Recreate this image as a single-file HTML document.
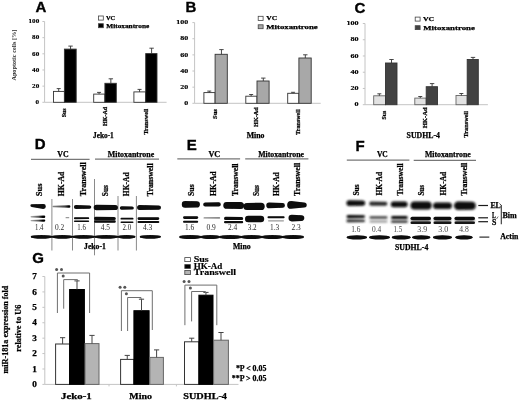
<!DOCTYPE html>
<html><head><meta charset="utf-8"><style>
html,body{margin:0;padding:0;background:#fff;width:520px;height:401px;overflow:hidden;}
svg{display:block;filter:blur(0.3px);}
</style></head><body>
<svg width="520" height="401" viewBox="0 0 520 401">
<rect x="0" y="0" width="520" height="401" fill="#fff"/>
<text x="35.40" y="12.30" font-family='"Liberation Sans", sans-serif' font-size="15" font-weight="bold" fill="#000" text-anchor="start" stroke="#000" stroke-width="0.35">A</text>
<text x="185.50" y="12.20" font-family='"Liberation Sans", sans-serif' font-size="15" font-weight="bold" fill="#000" text-anchor="start" stroke="#000" stroke-width="0.35">B</text>
<text x="354.40" y="12.80" font-family='"Liberation Sans", sans-serif' font-size="15" font-weight="bold" fill="#000" text-anchor="start" stroke="#000" stroke-width="0.35">C</text>
<text x="34.80" y="149.40" font-family='"Liberation Sans", sans-serif' font-size="15" font-weight="bold" fill="#000" text-anchor="start" stroke="#000" stroke-width="0.35">D</text>
<text x="186.80" y="149.80" font-family='"Liberation Sans", sans-serif' font-size="15" font-weight="bold" fill="#000" text-anchor="start" stroke="#000" stroke-width="0.35">E</text>
<text x="355.60" y="150.60" font-family='"Liberation Sans", sans-serif' font-size="15" font-weight="bold" fill="#000" text-anchor="start" stroke="#000" stroke-width="0.35">F</text>
<text x="32.20" y="263.40" font-family='"Liberation Sans", sans-serif' font-size="15" font-weight="bold" fill="#000" text-anchor="start" stroke="#000" stroke-width="0.35">G</text>
<line x1="44.60" y1="21.50" x2="44.60" y2="102.30" stroke="#c4c4c4" stroke-width="1"/>
<line x1="44.60" y1="102.30" x2="166.60" y2="102.30" stroke="#c4c4c4" stroke-width="1"/>
<line x1="42.40" y1="102.30" x2="44.60" y2="102.30" stroke="#c4c4c4" stroke-width="1"/>
<text x="39.20" y="104.00" font-family='"Liberation Serif", serif' font-size="6.2" font-weight="bold" fill="#000" stroke="#000" stroke-width="0.15" text-anchor="end" textLength="3.57" lengthAdjust="spacingAndGlyphs" >0</text>
<line x1="42.40" y1="86.14" x2="44.60" y2="86.14" stroke="#c4c4c4" stroke-width="1"/>
<text x="39.20" y="87.84" font-family='"Liberation Serif", serif' font-size="6.2" font-weight="bold" fill="#000" stroke="#000" stroke-width="0.15" text-anchor="end" textLength="7.13" lengthAdjust="spacingAndGlyphs" >20</text>
<line x1="42.40" y1="69.98" x2="44.60" y2="69.98" stroke="#c4c4c4" stroke-width="1"/>
<text x="39.20" y="71.68" font-family='"Liberation Serif", serif' font-size="6.2" font-weight="bold" fill="#000" stroke="#000" stroke-width="0.15" text-anchor="end" textLength="7.13" lengthAdjust="spacingAndGlyphs" >40</text>
<line x1="42.40" y1="53.82" x2="44.60" y2="53.82" stroke="#c4c4c4" stroke-width="1"/>
<text x="39.20" y="55.52" font-family='"Liberation Serif", serif' font-size="6.2" font-weight="bold" fill="#000" stroke="#000" stroke-width="0.15" text-anchor="end" textLength="7.13" lengthAdjust="spacingAndGlyphs" >60</text>
<line x1="42.40" y1="37.66" x2="44.60" y2="37.66" stroke="#c4c4c4" stroke-width="1"/>
<text x="39.20" y="39.36" font-family='"Liberation Serif", serif' font-size="6.2" font-weight="bold" fill="#000" stroke="#000" stroke-width="0.15" text-anchor="end" textLength="7.13" lengthAdjust="spacingAndGlyphs" >80</text>
<line x1="42.40" y1="21.50" x2="44.60" y2="21.50" stroke="#c4c4c4" stroke-width="1"/>
<text x="39.20" y="23.20" font-family='"Liberation Serif", serif' font-size="6.2" font-weight="bold" fill="#000" stroke="#000" stroke-width="0.15" text-anchor="end" textLength="10.70" lengthAdjust="spacingAndGlyphs" >100</text>
<rect x="53.50" y="91.40" width="10.90" height="10.90" fill="#fff" stroke="#333" stroke-width="0.9"/>
<line x1="58.70" y1="88.60" x2="58.70" y2="91.40" stroke="#333" stroke-width="0.9"/>
<line x1="56.70" y1="88.60" x2="60.70" y2="88.60" stroke="#333" stroke-width="0.9"/>
<rect x="64.40" y="49.10" width="11.80" height="53.20" fill="#000" stroke="#333" stroke-width="0.9"/>
<line x1="70.55" y1="46.10" x2="70.55" y2="49.10" stroke="#333" stroke-width="0.9"/>
<line x1="68.35" y1="46.10" x2="72.75" y2="46.10" stroke="#333" stroke-width="0.9"/>
<rect x="93.70" y="94.10" width="11.20" height="8.20" fill="#fff" stroke="#333" stroke-width="0.9"/>
<line x1="99.05" y1="92.40" x2="99.05" y2="94.10" stroke="#333" stroke-width="0.9"/>
<line x1="97.05" y1="92.40" x2="101.05" y2="92.40" stroke="#333" stroke-width="0.9"/>
<rect x="104.90" y="83.30" width="11.40" height="19.00" fill="#000" stroke="#333" stroke-width="0.9"/>
<line x1="110.85" y1="78.80" x2="110.85" y2="83.30" stroke="#333" stroke-width="0.9"/>
<line x1="108.65" y1="78.80" x2="113.05" y2="78.80" stroke="#333" stroke-width="0.9"/>
<rect x="133.90" y="91.90" width="11.80" height="10.40" fill="#fff" stroke="#333" stroke-width="0.9"/>
<line x1="139.55" y1="89.40" x2="139.55" y2="91.90" stroke="#333" stroke-width="0.9"/>
<line x1="137.55" y1="89.40" x2="141.55" y2="89.40" stroke="#333" stroke-width="0.9"/>
<rect x="145.70" y="53.60" width="11.30" height="48.70" fill="#000" stroke="#333" stroke-width="0.9"/>
<line x1="151.60" y1="48.20" x2="151.60" y2="53.60" stroke="#333" stroke-width="0.9"/>
<line x1="149.40" y1="48.20" x2="153.80" y2="48.20" stroke="#333" stroke-width="0.9"/>
<line x1="194.60" y1="22.60" x2="194.60" y2="103.30" stroke="#c4c4c4" stroke-width="1"/>
<line x1="194.60" y1="103.30" x2="320.70" y2="103.30" stroke="#c4c4c4" stroke-width="1"/>
<line x1="192.40" y1="103.30" x2="194.60" y2="103.30" stroke="#c4c4c4" stroke-width="1"/>
<text x="188.30" y="105.00" font-family='"Liberation Serif", serif' font-size="6.2" font-weight="bold" fill="#000" stroke="#000" stroke-width="0.15" text-anchor="end" textLength="4.00" lengthAdjust="spacingAndGlyphs" >0</text>
<line x1="192.40" y1="87.16" x2="194.60" y2="87.16" stroke="#c4c4c4" stroke-width="1"/>
<text x="188.30" y="88.86" font-family='"Liberation Serif", serif' font-size="6.2" font-weight="bold" fill="#000" stroke="#000" stroke-width="0.15" text-anchor="end" textLength="8.00" lengthAdjust="spacingAndGlyphs" >20</text>
<line x1="192.40" y1="71.02" x2="194.60" y2="71.02" stroke="#c4c4c4" stroke-width="1"/>
<text x="188.30" y="72.72" font-family='"Liberation Serif", serif' font-size="6.2" font-weight="bold" fill="#000" stroke="#000" stroke-width="0.15" text-anchor="end" textLength="8.00" lengthAdjust="spacingAndGlyphs" >40</text>
<line x1="192.40" y1="54.88" x2="194.60" y2="54.88" stroke="#c4c4c4" stroke-width="1"/>
<text x="188.30" y="56.58" font-family='"Liberation Serif", serif' font-size="6.2" font-weight="bold" fill="#000" stroke="#000" stroke-width="0.15" text-anchor="end" textLength="8.00" lengthAdjust="spacingAndGlyphs" >60</text>
<line x1="192.40" y1="38.74" x2="194.60" y2="38.74" stroke="#c4c4c4" stroke-width="1"/>
<text x="188.30" y="40.44" font-family='"Liberation Serif", serif' font-size="6.2" font-weight="bold" fill="#000" stroke="#000" stroke-width="0.15" text-anchor="end" textLength="8.00" lengthAdjust="spacingAndGlyphs" >80</text>
<line x1="192.40" y1="22.60" x2="194.60" y2="22.60" stroke="#c4c4c4" stroke-width="1"/>
<text x="188.30" y="24.30" font-family='"Liberation Serif", serif' font-size="6.2" font-weight="bold" fill="#000" stroke="#000" stroke-width="0.15" text-anchor="end" textLength="12.00" lengthAdjust="spacingAndGlyphs" >100</text>
<rect x="203.90" y="92.60" width="11.20" height="10.70" fill="#fff" stroke="#333" stroke-width="0.9"/>
<line x1="209.25" y1="91.10" x2="209.25" y2="92.60" stroke="#333" stroke-width="0.9"/>
<line x1="207.25" y1="91.10" x2="211.25" y2="91.10" stroke="#333" stroke-width="0.9"/>
<rect x="215.10" y="54.30" width="12.20" height="49.00" fill="#a8a8a8" stroke="#333" stroke-width="0.9"/>
<line x1="221.45" y1="49.60" x2="221.45" y2="54.30" stroke="#333" stroke-width="0.9"/>
<line x1="219.25" y1="49.60" x2="223.65" y2="49.60" stroke="#333" stroke-width="0.9"/>
<rect x="245.80" y="96.20" width="11.20" height="7.10" fill="#fff" stroke="#333" stroke-width="0.9"/>
<line x1="251.15" y1="94.50" x2="251.15" y2="96.20" stroke="#333" stroke-width="0.9"/>
<line x1="249.15" y1="94.50" x2="253.15" y2="94.50" stroke="#333" stroke-width="0.9"/>
<rect x="257.00" y="81.00" width="12.10" height="22.30" fill="#a8a8a8" stroke="#333" stroke-width="0.9"/>
<line x1="263.30" y1="78.10" x2="263.30" y2="81.00" stroke="#333" stroke-width="0.9"/>
<line x1="261.10" y1="78.10" x2="265.50" y2="78.10" stroke="#333" stroke-width="0.9"/>
<rect x="287.70" y="93.30" width="11.20" height="10.00" fill="#fff" stroke="#333" stroke-width="0.9"/>
<line x1="293.05" y1="92.30" x2="293.05" y2="93.30" stroke="#333" stroke-width="0.9"/>
<line x1="291.05" y1="92.30" x2="295.05" y2="92.30" stroke="#333" stroke-width="0.9"/>
<rect x="298.90" y="58.00" width="12.30" height="45.30" fill="#a8a8a8" stroke="#333" stroke-width="0.9"/>
<line x1="305.30" y1="54.80" x2="305.30" y2="58.00" stroke="#333" stroke-width="0.9"/>
<line x1="303.10" y1="54.80" x2="307.50" y2="54.80" stroke="#333" stroke-width="0.9"/>
<line x1="365.00" y1="23.50" x2="365.00" y2="104.70" stroke="#c4c4c4" stroke-width="1"/>
<line x1="365.00" y1="104.70" x2="487.90" y2="104.70" stroke="#c4c4c4" stroke-width="1"/>
<line x1="362.80" y1="104.70" x2="365.00" y2="104.70" stroke="#c4c4c4" stroke-width="1"/>
<text x="358.60" y="106.40" font-family='"Liberation Serif", serif' font-size="6.2" font-weight="bold" fill="#000" stroke="#000" stroke-width="0.15" text-anchor="end" textLength="4.07" lengthAdjust="spacingAndGlyphs" >0</text>
<line x1="362.80" y1="88.46" x2="365.00" y2="88.46" stroke="#c4c4c4" stroke-width="1"/>
<text x="358.60" y="90.16" font-family='"Liberation Serif", serif' font-size="6.2" font-weight="bold" fill="#000" stroke="#000" stroke-width="0.15" text-anchor="end" textLength="8.13" lengthAdjust="spacingAndGlyphs" >20</text>
<line x1="362.80" y1="72.22" x2="365.00" y2="72.22" stroke="#c4c4c4" stroke-width="1"/>
<text x="358.60" y="73.92" font-family='"Liberation Serif", serif' font-size="6.2" font-weight="bold" fill="#000" stroke="#000" stroke-width="0.15" text-anchor="end" textLength="8.13" lengthAdjust="spacingAndGlyphs" >40</text>
<line x1="362.80" y1="55.98" x2="365.00" y2="55.98" stroke="#c4c4c4" stroke-width="1"/>
<text x="358.60" y="57.68" font-family='"Liberation Serif", serif' font-size="6.2" font-weight="bold" fill="#000" stroke="#000" stroke-width="0.15" text-anchor="end" textLength="8.13" lengthAdjust="spacingAndGlyphs" >60</text>
<line x1="362.80" y1="39.74" x2="365.00" y2="39.74" stroke="#c4c4c4" stroke-width="1"/>
<text x="358.60" y="41.44" font-family='"Liberation Serif", serif' font-size="6.2" font-weight="bold" fill="#000" stroke="#000" stroke-width="0.15" text-anchor="end" textLength="8.13" lengthAdjust="spacingAndGlyphs" >80</text>
<line x1="362.80" y1="23.50" x2="365.00" y2="23.50" stroke="#c4c4c4" stroke-width="1"/>
<text x="358.60" y="25.20" font-family='"Liberation Serif", serif' font-size="6.2" font-weight="bold" fill="#000" stroke="#000" stroke-width="0.15" text-anchor="end" textLength="12.20" lengthAdjust="spacingAndGlyphs" >100</text>
<rect x="373.70" y="95.80" width="11.80" height="8.90" fill="#e2e2e2" stroke="#666" stroke-width="0.9"/>
<line x1="379.35" y1="93.80" x2="379.35" y2="95.80" stroke="#333" stroke-width="0.9"/>
<line x1="377.35" y1="93.80" x2="381.35" y2="93.80" stroke="#333" stroke-width="0.9"/>
<rect x="385.50" y="63.00" width="11.50" height="41.70" fill="#424242" stroke="#333" stroke-width="0.9"/>
<line x1="391.50" y1="59.50" x2="391.50" y2="63.00" stroke="#333" stroke-width="0.9"/>
<line x1="389.30" y1="59.50" x2="393.70" y2="59.50" stroke="#333" stroke-width="0.9"/>
<rect x="414.80" y="98.10" width="11.40" height="6.60" fill="#e2e2e2" stroke="#666" stroke-width="0.9"/>
<line x1="420.25" y1="96.50" x2="420.25" y2="98.10" stroke="#333" stroke-width="0.9"/>
<line x1="418.25" y1="96.50" x2="422.25" y2="96.50" stroke="#333" stroke-width="0.9"/>
<rect x="426.20" y="86.70" width="11.30" height="18.00" fill="#424242" stroke="#333" stroke-width="0.9"/>
<line x1="432.10" y1="83.60" x2="432.10" y2="86.70" stroke="#333" stroke-width="0.9"/>
<line x1="429.90" y1="83.60" x2="434.30" y2="83.60" stroke="#333" stroke-width="0.9"/>
<rect x="456.00" y="95.50" width="11.20" height="9.20" fill="#e2e2e2" stroke="#666" stroke-width="0.9"/>
<line x1="461.35" y1="93.50" x2="461.35" y2="95.50" stroke="#333" stroke-width="0.9"/>
<line x1="459.35" y1="93.50" x2="463.35" y2="93.50" stroke="#333" stroke-width="0.9"/>
<rect x="467.20" y="59.50" width="11.10" height="45.20" fill="#424242" stroke="#333" stroke-width="0.9"/>
<line x1="473.00" y1="57.40" x2="473.00" y2="59.50" stroke="#333" stroke-width="0.9"/>
<line x1="470.80" y1="57.40" x2="475.20" y2="57.40" stroke="#333" stroke-width="0.9"/>
<rect x="98.40" y="16.00" width="4.90" height="4.10" fill="#fff" stroke="#444" stroke-width="0.8"/>
<text x="105.90" y="19.90" font-family='"Liberation Serif", serif' font-size="6.4" font-weight="bold" fill="#000" stroke="#000" stroke-width="0.25" text-anchor="start" textLength="9.30" lengthAdjust="spacingAndGlyphs" >VC</text>
<rect x="98.40" y="23.70" width="4.90" height="4.00" fill="#000" stroke="#444" stroke-width="0.8"/>
<text x="106.30" y="27.70" font-family='"Liberation Serif", serif' font-size="6.4" font-weight="bold" fill="#000" stroke="#000" stroke-width="0.25" text-anchor="start" textLength="42.90" lengthAdjust="spacingAndGlyphs" >Mitoxantrone</text>
<rect x="258.20" y="16.30" width="4.90" height="4.10" fill="#fff" stroke="#444" stroke-width="0.8"/>
<text x="266.30" y="20.10" font-family='"Liberation Serif", serif' font-size="6.4" font-weight="bold" fill="#000" stroke="#000" stroke-width="0.25" text-anchor="start" textLength="10.90" lengthAdjust="spacingAndGlyphs" >VC</text>
<rect x="258.20" y="24.80" width="4.90" height="3.90" fill="#a8a8a8" stroke="#444" stroke-width="0.8"/>
<text x="266.30" y="28.50" font-family='"Liberation Serif", serif' font-size="6.4" font-weight="bold" fill="#000" stroke="#000" stroke-width="0.25" text-anchor="start" textLength="51.40" lengthAdjust="spacingAndGlyphs" >Mitoxantrone</text>
<rect x="415.20" y="17.10" width="4.90" height="4.00" fill="#fff" stroke="#444" stroke-width="0.8"/>
<text x="423.00" y="21.10" font-family='"Liberation Serif", serif' font-size="6.6" font-weight="bold" fill="#000" stroke="#000" stroke-width="0.25" text-anchor="start" textLength="11.20" lengthAdjust="spacingAndGlyphs" >VC</text>
<rect x="415.20" y="25.70" width="4.90" height="3.90" fill="#424242" stroke="#444" stroke-width="0.8"/>
<text x="423.30" y="29.60" font-family='"Liberation Serif", serif' font-size="6.6" font-weight="bold" fill="#000" stroke="#000" stroke-width="0.25" text-anchor="start" textLength="51.50" lengthAdjust="spacingAndGlyphs" >Mitoxantrone</text>
<text transform="translate(16.00 80.60) rotate(-90)" x="0" y="0" font-family='"Liberation Serif", serif' font-size="6.4" font-weight="bold" fill="#2a2a2a" text-anchor="start" textLength="51.00" lengthAdjust="spacingAndGlyphs" >Apoptotic cells [%]</text>
<text transform="translate(66.00 108.40) rotate(-90)" x="0" y="0" font-family='"Liberation Serif", serif' font-size="6.2" font-weight="bold" fill="#000" stroke="#000" stroke-width="0.25" text-anchor="end" textLength="8.90" lengthAdjust="spacingAndGlyphs" >Sus</text>
<text transform="translate(106.50 106.90) rotate(-90)" x="0" y="0" font-family='"Liberation Serif", serif' font-size="6.2" font-weight="bold" fill="#000" stroke="#000" stroke-width="0.25" text-anchor="end" textLength="19.10" lengthAdjust="spacingAndGlyphs" >HK-Ad</text>
<text transform="translate(147.50 108.70) rotate(-90)" x="0" y="0" font-family='"Liberation Serif", serif' font-size="6.2" font-weight="bold" fill="#000" stroke="#000" stroke-width="0.25" text-anchor="end" textLength="25.90" lengthAdjust="spacingAndGlyphs" >Transwell</text>
<text transform="translate(216.50 109.20) rotate(-90)" x="0" y="0" font-family='"Liberation Serif", serif' font-size="6.2" font-weight="bold" fill="#000" stroke="#000" stroke-width="0.25" text-anchor="end" textLength="9.80" lengthAdjust="spacingAndGlyphs" >Sus</text>
<text transform="translate(258.00 107.20) rotate(-90)" x="0" y="0" font-family='"Liberation Serif", serif' font-size="6.2" font-weight="bold" fill="#000" stroke="#000" stroke-width="0.25" text-anchor="end" textLength="19.70" lengthAdjust="spacingAndGlyphs" >HK-Ad</text>
<text transform="translate(299.90 109.40) rotate(-90)" x="0" y="0" font-family='"Liberation Serif", serif' font-size="6.2" font-weight="bold" fill="#000" stroke="#000" stroke-width="0.25" text-anchor="end" textLength="25.30" lengthAdjust="spacingAndGlyphs" >Transwell</text>
<text transform="translate(386.40 110.80) rotate(-90)" x="0" y="0" font-family='"Liberation Serif", serif' font-size="6.5" font-weight="bold" fill="#000" stroke="#000" stroke-width="0.25" text-anchor="end" textLength="8.70" lengthAdjust="spacingAndGlyphs" >Sus</text>
<text transform="translate(426.80 107.40) rotate(-90)" x="0" y="0" font-family='"Liberation Serif", serif' font-size="6.5" font-weight="bold" fill="#000" stroke="#000" stroke-width="0.25" text-anchor="end" textLength="20.90" lengthAdjust="spacingAndGlyphs" >HK-Ad</text>
<text transform="translate(468.30 111.00) rotate(-90)" x="0" y="0" font-family='"Liberation Serif", serif' font-size="6.5" font-weight="bold" fill="#000" stroke="#000" stroke-width="0.25" text-anchor="end" textLength="26.50" lengthAdjust="spacingAndGlyphs" >Transwell</text>
<text x="93.00" y="138.30" font-family='"Liberation Serif", serif' font-size="7.4" font-weight="bold" fill="#000" stroke="#000" stroke-width="0.25" text-anchor="start" textLength="20.80" lengthAdjust="spacingAndGlyphs" >Jeko-1</text>
<text x="246.70" y="138.30" font-family='"Liberation Serif", serif' font-size="7.4" font-weight="bold" fill="#000" stroke="#000" stroke-width="0.25" text-anchor="start" textLength="17.80" lengthAdjust="spacingAndGlyphs" >Mino</text>
<text x="406.60" y="137.70" font-family='"Liberation Serif", serif' font-size="7.6" font-weight="bold" fill="#000" stroke="#000" stroke-width="0.25" text-anchor="start" textLength="33.30" lengthAdjust="spacingAndGlyphs" >SUDHL-4</text>
<defs><filter id="bl" x="-20%" y="-80%" width="140%" height="260%"><feGaussianBlur stdDeviation="0.6"/></filter><filter id="bl2" x="-20%" y="-80%" width="140%" height="260%"><feGaussianBlur stdDeviation="0.95"/></filter><linearGradient id="gLR" x1="0" y1="0" x2="1" y2="0"><stop offset="0" stop-color="#b0b0b0"/><stop offset="0.55" stop-color="#555"/><stop offset="0.8" stop-color="#000"/></linearGradient><linearGradient id="gLR2" x1="0" y1="0" x2="1" y2="0"><stop offset="0" stop-color="#888"/><stop offset="0.7" stop-color="#444"/><stop offset="0.9" stop-color="#000"/></linearGradient></defs>
<text x="57.20" y="157.00" font-family='"Liberation Serif", serif' font-size="8.0" font-weight="bold" fill="#000" stroke="#000" stroke-width="0.25" text-anchor="start" textLength="11.40" lengthAdjust="spacingAndGlyphs" >VC</text>
<text x="107.80" y="157.20" font-family='"Liberation Serif", serif' font-size="8.0" font-weight="bold" fill="#000" stroke="#000" stroke-width="0.25" text-anchor="start" textLength="46.40" lengthAdjust="spacingAndGlyphs" >Mitoxantrone</text>
<line x1="31.00" y1="159.30" x2="89.60" y2="159.30" stroke="#777" stroke-width="1.3"/>
<line x1="95.00" y1="159.20" x2="159.00" y2="159.20" stroke="#777" stroke-width="1.3"/>
<text transform="translate(41.90 196.20) rotate(-90)" x="0" y="0" font-family='"Liberation Serif", serif' font-size="8.0" font-weight="bold" fill="#000" stroke="#000" stroke-width="0.25" text-anchor="start" textLength="12.60" lengthAdjust="spacingAndGlyphs" >Sus</text>
<text transform="translate(64.00 196.20) rotate(-90)" x="0" y="0" font-family='"Liberation Serif", serif' font-size="8.0" font-weight="bold" fill="#000" stroke="#000" stroke-width="0.25" text-anchor="start" textLength="24.60" lengthAdjust="spacingAndGlyphs" >HK-Ad</text>
<text transform="translate(85.60 196.20) rotate(-90)" x="0" y="0" font-family='"Liberation Serif", serif' font-size="8.0" font-weight="bold" fill="#000" stroke="#000" stroke-width="0.25" text-anchor="start" textLength="34.00" lengthAdjust="spacingAndGlyphs" >Transwell</text>
<text transform="translate(108.40 196.20) rotate(-90)" x="0" y="0" font-family='"Liberation Serif", serif' font-size="8.0" font-weight="bold" fill="#000" stroke="#000" stroke-width="0.25" text-anchor="start" textLength="11.20" lengthAdjust="spacingAndGlyphs" >Sus</text>
<text transform="translate(129.00 196.20) rotate(-90)" x="0" y="0" font-family='"Liberation Serif", serif' font-size="8.0" font-weight="bold" fill="#000" stroke="#000" stroke-width="0.25" text-anchor="start" textLength="23.80" lengthAdjust="spacingAndGlyphs" >HK-Ad</text>
<text transform="translate(152.50 196.20) rotate(-90)" x="0" y="0" font-family='"Liberation Serif", serif' font-size="8.0" font-weight="bold" fill="#000" stroke="#000" stroke-width="0.25" text-anchor="start" textLength="32.90" lengthAdjust="spacingAndGlyphs" >Transwell</text>
<line x1="51.90" y1="199.00" x2="51.90" y2="250.50" stroke="#8a8a8a" stroke-width="1"/>
<line x1="72.50" y1="199.00" x2="72.50" y2="250.50" stroke="#8a8a8a" stroke-width="1"/>
<line x1="94.50" y1="179.00" x2="94.50" y2="255.30" stroke="#8a8a8a" stroke-width="1"/>
<line x1="118.00" y1="196.00" x2="118.00" y2="250.50" stroke="#8a8a8a" stroke-width="1"/>
<line x1="136.40" y1="196.00" x2="136.40" y2="250.50" stroke="#8a8a8a" stroke-width="1"/>
<path d="M31.70,204.30 L43.40,204.10 A2.40,2.40 0 0 1 43.40,208.90 L31.70,206.90 A1.30,1.30 0 0 1 31.70,204.30 Z" fill="#080808" filter="url(#bl)"/>
<path d="M53.15,205.85 L69.20,205.30 A1.20,1.20 0 0 1 69.20,207.70 L53.15,207.15 A0.65,0.65 0 0 1 53.15,205.85 Z" fill="url(#gLR2)" filter="url(#bl)"/>
<path d="M75.90,205.10 L89.60,205.40 A1.70,1.70 0 0 1 89.60,208.80 L75.90,209.10 A2.00,2.00 0 0 1 75.90,205.10 Z" fill="#080808" filter="url(#bl)"/>
<path d="M96.50,204.70 L115.30,204.90 A2.60,2.60 0 0 1 115.30,210.10 L96.50,210.30 A2.80,2.80 0 0 1 96.50,204.70 Z" fill="#080808" filter="url(#bl)"/>
<path d="M121.60,206.20 L132.20,206.40 A1.60,1.60 0 0 1 132.20,209.60 L121.60,209.80 A1.80,1.80 0 0 1 121.60,206.20 Z" fill="#080808" filter="url(#bl)"/>
<path d="M139.60,205.10 L158.80,205.40 A2.20,2.20 0 0 1 158.80,209.80 L139.60,210.10 A2.50,2.50 0 0 1 139.60,205.10 Z" fill="#080808" filter="url(#bl)"/>
<path d="M31.20,216.10 L44.10,215.60 A1.20,1.20 0 0 1 44.10,218.00 L31.20,217.50 A0.70,0.70 0 0 1 31.20,216.10 Z" fill="url(#gLR)" filter="url(#bl)"/>
<path d="M31.20,219.90 L44.20,219.50 A1.10,1.10 0 0 1 44.20,221.70 L31.20,221.30 A0.70,0.70 0 0 1 31.20,219.90 Z" fill="url(#gLR)" filter="url(#bl)"/>
<path d="M74.90,217.20 L88.30,217.30 A0.90,0.90 0 0 1 88.30,219.10 L74.90,219.20 A1.00,1.00 0 0 1 74.90,217.20 Z" fill="#080808" filter="url(#bl)"/>
<path d="M74.70,220.50 L88.40,220.50 A0.80,0.80 0 0 1 88.40,222.10 L74.70,222.10 A0.80,0.80 0 0 1 74.70,220.50 Z" fill="#080808" filter="url(#bl)"/>
<path d="M95.60,216.80 L114.30,216.90 A1.50,1.50 0 0 1 114.30,219.90 L95.60,220.00 A1.60,1.60 0 0 1 95.60,216.80 Z" fill="#080808" filter="url(#bl)"/>
<path d="M95.30,220.20 L114.60,220.30 A1.20,1.20 0 0 1 114.60,222.70 L95.30,222.80 A1.30,1.30 0 0 1 95.30,220.20 Z" fill="#080808" filter="url(#bl)"/>
<path d="M121.40,217.80 L132.60,217.80 A0.90,0.90 0 0 1 132.60,219.60 L121.40,219.60 A0.90,0.90 0 0 1 121.40,217.80 Z" fill="#080808" filter="url(#bl)"/>
<path d="M121.30,221.40 L132.70,221.40 A0.80,0.80 0 0 1 132.70,223.00 L121.30,223.00 A0.80,0.80 0 0 1 121.30,221.40 Z" fill="#080808" filter="url(#bl)"/>
<path d="M138.80,217.30 L157.90,217.20 A1.40,1.40 0 0 1 157.90,220.00 L138.80,219.90 A1.30,1.30 0 0 1 138.80,217.30 Z" fill="#080808" filter="url(#bl)"/>
<path d="M138.40,221.10 L158.40,221.10 A0.90,0.90 0 0 1 158.40,222.90 L138.40,222.90 A0.90,0.90 0 0 1 138.40,221.10 Z" fill="#080808" filter="url(#bl)"/>
<path d="M66.10,217.10 L68.70,217.10 A0.60,0.60 0 0 1 68.70,218.30 L66.10,218.30 A0.60,0.60 0 0 1 66.10,217.10 Z" fill="#999" filter="url(#bl)"/>
<text x="35.00" y="230.40" font-family='"Liberation Serif", serif' font-size="7.5" font-weight="normal" fill="#2a2a2a" text-anchor="start" textLength="8.50" lengthAdjust="spacingAndGlyphs" >1.4</text>
<text x="55.00" y="230.40" font-family='"Liberation Serif", serif' font-size="7.5" font-weight="normal" fill="#2a2a2a" text-anchor="start" textLength="9.20" lengthAdjust="spacingAndGlyphs" >0.2</text>
<text x="77.30" y="230.40" font-family='"Liberation Serif", serif' font-size="7.5" font-weight="normal" fill="#2a2a2a" text-anchor="start" textLength="8.50" lengthAdjust="spacingAndGlyphs" >1.6</text>
<text x="100.80" y="230.40" font-family='"Liberation Serif", serif' font-size="7.5" font-weight="normal" fill="#2a2a2a" text-anchor="start" textLength="9.20" lengthAdjust="spacingAndGlyphs" >4.5</text>
<text x="122.60" y="230.40" font-family='"Liberation Serif", serif' font-size="7.5" font-weight="normal" fill="#2a2a2a" text-anchor="start" textLength="8.60" lengthAdjust="spacingAndGlyphs" >2.0</text>
<text x="143.00" y="230.40" font-family='"Liberation Serif", serif' font-size="7.5" font-weight="normal" fill="#2a2a2a" text-anchor="start" textLength="9.30" lengthAdjust="spacingAndGlyphs" >4.3</text>
<g filter="url(#bl)" fill="#080808"><ellipse cx="41.50" cy="236.80" rx="10.70" ry="1.90"/><rect x="30.80" y="235.80" width="21.40" height="2.00" rx="1.00"/></g>
<g filter="url(#bl)" fill="#080808"><ellipse cx="62.25" cy="236.80" rx="10.45" ry="1.90"/><rect x="51.80" y="235.80" width="20.90" height="2.00" rx="1.00"/></g>
<g filter="url(#bl)" fill="#080808"><ellipse cx="83.50" cy="236.80" rx="11.20" ry="1.90"/><rect x="72.30" y="235.80" width="22.40" height="2.00" rx="1.00"/></g>
<g filter="url(#bl)" fill="#080808"><ellipse cx="106.25" cy="236.80" rx="11.95" ry="1.90"/><rect x="94.30" y="235.80" width="23.90" height="2.00" rx="1.00"/></g>
<g filter="url(#bl)" fill="#080808"><ellipse cx="126.60" cy="236.80" rx="8.80" ry="1.90"/><rect x="117.80" y="235.80" width="17.60" height="2.00" rx="1.00"/></g>
<g filter="url(#bl)" fill="#080808"><ellipse cx="150.30" cy="236.80" rx="10.50" ry="1.90"/><rect x="139.80" y="235.80" width="21.00" height="2.00" rx="1.00"/></g>
<text x="84.10" y="248.80" font-family='"Liberation Serif", serif' font-size="7.4" font-weight="bold" fill="#000" stroke="#000" stroke-width="0.25" text-anchor="start" textLength="21.70" lengthAdjust="spacingAndGlyphs" >Jeko-1</text>
<text x="208.40" y="157.00" font-family='"Liberation Serif", serif' font-size="8.0" font-weight="bold" fill="#000" stroke="#000" stroke-width="0.25" text-anchor="start" textLength="11.80" lengthAdjust="spacingAndGlyphs" >VC</text>
<text x="258.20" y="157.20" font-family='"Liberation Serif", serif' font-size="8.0" font-weight="bold" fill="#000" stroke="#000" stroke-width="0.25" text-anchor="start" textLength="45.80" lengthAdjust="spacingAndGlyphs" >Mitoxantrone</text>
<line x1="177.30" y1="158.90" x2="240.10" y2="158.90" stroke="#777" stroke-width="1.3"/>
<line x1="245.20" y1="158.90" x2="308.40" y2="158.90" stroke="#777" stroke-width="1.3"/>
<text transform="translate(193.90 196.00) rotate(-90)" x="0" y="0" font-family='"Liberation Serif", serif' font-size="8.0" font-weight="bold" fill="#000" stroke="#000" stroke-width="0.25" text-anchor="start" textLength="11.70" lengthAdjust="spacingAndGlyphs" >Sus</text>
<text transform="translate(215.60 196.00) rotate(-90)" x="0" y="0" font-family='"Liberation Serif", serif' font-size="8.0" font-weight="bold" fill="#000" stroke="#000" stroke-width="0.25" text-anchor="start" textLength="24.70" lengthAdjust="spacingAndGlyphs" >HK-Ad</text>
<text transform="translate(237.50 196.00) rotate(-90)" x="0" y="0" font-family='"Liberation Serif", serif' font-size="8.0" font-weight="bold" fill="#000" stroke="#000" stroke-width="0.25" text-anchor="start" textLength="32.50" lengthAdjust="spacingAndGlyphs" >Transwell</text>
<text transform="translate(258.70 196.00) rotate(-90)" x="0" y="0" font-family='"Liberation Serif", serif' font-size="8.0" font-weight="bold" fill="#000" stroke="#000" stroke-width="0.25" text-anchor="start" textLength="10.80" lengthAdjust="spacingAndGlyphs" >Sus</text>
<text transform="translate(279.00 196.00) rotate(-90)" x="0" y="0" font-family='"Liberation Serif", serif' font-size="8.0" font-weight="bold" fill="#000" stroke="#000" stroke-width="0.25" text-anchor="start" textLength="23.70" lengthAdjust="spacingAndGlyphs" >HK-Ad</text>
<text transform="translate(300.20 196.00) rotate(-90)" x="0" y="0" font-family='"Liberation Serif", serif' font-size="8.0" font-weight="bold" fill="#000" stroke="#000" stroke-width="0.25" text-anchor="start" textLength="33.20" lengthAdjust="spacingAndGlyphs" >Transwell</text>
<path d="M185.10,201.10 L196.80,201.30 A3.10,3.10 0 0 1 196.80,207.50 L185.10,207.70 A3.30,3.30 0 0 1 185.10,201.10 Z" fill="#080808" filter="url(#bl)"/>
<path d="M205.20,202.40 L218.70,202.30 A2.10,2.10 0 0 1 218.70,206.50 L205.20,206.40 A2.00,2.00 0 0 1 205.20,202.40 Z" fill="#080808" filter="url(#bl)"/>
<path d="M226.70,202.00 L240.50,201.90 A3.50,3.50 0 0 1 240.50,208.90 L226.70,208.80 A3.40,3.40 0 0 1 226.70,202.00 Z" fill="#080808" filter="url(#bl)"/>
<path d="M246.90,202.90 L261.10,202.80 A3.60,3.60 0 0 1 261.10,210.00 L246.90,209.90 A3.50,3.50 0 0 1 246.90,202.90 Z" fill="#080808" filter="url(#bl)"/>
<path d="M269.10,202.60 L282.60,203.10 A2.30,2.30 0 0 1 282.60,207.70 L269.10,208.20 A2.80,2.80 0 0 1 269.10,202.60 Z" fill="#080808" filter="url(#bl)"/>
<path d="M291.10,201.00 L304.20,202.40 A2.50,2.50 0 0 1 304.20,207.40 L291.10,208.80 A3.90,3.90 0 0 1 291.10,201.00 Z" fill="#080808" filter="url(#bl)"/>
<path d="M184.40,216.20 L196.80,216.20 A1.40,1.40 0 0 1 196.80,219.00 L184.40,219.00 A1.40,1.40 0 0 1 184.40,216.20 Z" fill="#080808" filter="url(#bl)"/>
<path d="M184.00,220.80 L197.20,220.80 A1.00,1.00 0 0 1 197.20,222.80 L184.00,222.80 A1.00,1.00 0 0 1 184.00,220.80 Z" fill="#080808" filter="url(#bl)"/>
<path d="M204.20,217.20 L219.40,217.10 A0.80,0.80 0 0 1 219.40,218.70 L204.20,218.60 A0.70,0.70 0 0 1 204.20,217.20 Z" fill="#8a8a8a" filter="url(#bl)"/>
<path d="M225.60,216.80 L241.70,216.90 A1.50,1.50 0 0 1 241.70,219.90 L225.60,220.00 A1.60,1.60 0 0 1 225.60,216.80 Z" fill="#080808" filter="url(#bl)"/>
<path d="M225.15,221.05 L242.10,221.10 A1.10,1.10 0 0 1 242.10,223.30 L225.15,223.35 A1.15,1.15 0 0 1 225.15,221.05 Z" fill="#080808" filter="url(#bl)"/>
<path d="M248.30,215.70 L260.90,215.70 A3.30,3.30 0 0 1 260.90,222.30 L248.30,222.30 A3.30,3.30 0 0 1 248.30,215.70 Z" fill="#080808" filter="url(#bl)"/>
<path d="M268.50,216.20 L283.60,216.20 A1.00,1.00 0 0 1 283.60,218.20 L268.50,218.20 A1.00,1.00 0 0 1 268.50,216.20 Z" fill="#080808" filter="url(#bl)"/>
<path d="M268.60,220.20 L283.40,220.20 A0.60,0.60 0 0 1 283.40,221.40 L268.60,221.40 A0.60,0.60 0 0 1 268.60,220.20 Z" fill="#999" filter="url(#bl)"/>
<path d="M291.80,214.80 L301.50,215.30 A2.80,2.80 0 0 1 301.50,220.90 L291.80,221.40 A3.30,3.30 0 0 1 291.80,214.80 Z" fill="#080808" filter="url(#bl)"/>
<text x="185.00" y="230.40" font-family='"Liberation Serif", serif' font-size="7.5" font-weight="normal" fill="#2a2a2a" text-anchor="start" textLength="9.20" lengthAdjust="spacingAndGlyphs" >1.6</text>
<text x="206.50" y="230.40" font-family='"Liberation Serif", serif' font-size="7.5" font-weight="normal" fill="#2a2a2a" text-anchor="start" textLength="9.30" lengthAdjust="spacingAndGlyphs" >0.9</text>
<text x="228.00" y="230.40" font-family='"Liberation Serif", serif' font-size="7.5" font-weight="normal" fill="#2a2a2a" text-anchor="start" textLength="9.30" lengthAdjust="spacingAndGlyphs" >2.4</text>
<text x="247.70" y="230.40" font-family='"Liberation Serif", serif' font-size="7.5" font-weight="normal" fill="#2a2a2a" text-anchor="start" textLength="8.90" lengthAdjust="spacingAndGlyphs" >3.2</text>
<text x="270.00" y="230.40" font-family='"Liberation Serif", serif' font-size="7.5" font-weight="normal" fill="#2a2a2a" text-anchor="start" textLength="9.20" lengthAdjust="spacingAndGlyphs" >1.3</text>
<text x="291.50" y="230.40" font-family='"Liberation Serif", serif' font-size="7.5" font-weight="normal" fill="#2a2a2a" text-anchor="start" textLength="9.30" lengthAdjust="spacingAndGlyphs" >2.3</text>
<g filter="url(#bl)" fill="#080808"><ellipse cx="190.25" cy="237.00" rx="10.95" ry="2.10"/><rect x="179.30" y="235.80" width="21.90" height="2.40" rx="1.20"/></g>
<g filter="url(#bl)" fill="#080808"><ellipse cx="210.35" cy="237.00" rx="9.55" ry="2.10"/><rect x="200.80" y="235.80" width="19.10" height="2.40" rx="1.20"/></g>
<g filter="url(#bl)" fill="#080808"><ellipse cx="230.45" cy="237.00" rx="10.95" ry="2.10"/><rect x="219.50" y="235.80" width="21.90" height="2.40" rx="1.20"/></g>
<g filter="url(#bl)" fill="#080808"><ellipse cx="251.60" cy="237.00" rx="10.60" ry="2.10"/><rect x="241.00" y="235.80" width="21.20" height="2.40" rx="1.20"/></g>
<g filter="url(#bl)" fill="#080808"><ellipse cx="272.40" cy="237.00" rx="10.60" ry="2.10"/><rect x="261.80" y="235.80" width="21.20" height="2.40" rx="1.20"/></g>
<g filter="url(#bl)" fill="#080808"><ellipse cx="293.20" cy="237.00" rx="10.60" ry="2.10"/><rect x="282.60" y="235.80" width="21.20" height="2.40" rx="1.20"/></g>
<text x="233.00" y="248.50" font-family='"Liberation Serif", serif' font-size="7.4" font-weight="bold" fill="#000" stroke="#000" stroke-width="0.25" text-anchor="start" textLength="17.70" lengthAdjust="spacingAndGlyphs" >Mino</text>
<text x="376.90" y="156.60" font-family='"Liberation Serif", serif' font-size="8.0" font-weight="bold" fill="#000" stroke="#000" stroke-width="0.25" text-anchor="start" textLength="10.90" lengthAdjust="spacingAndGlyphs" >VC</text>
<text x="424.90" y="157.20" font-family='"Liberation Serif", serif' font-size="8.0" font-weight="bold" fill="#000" stroke="#000" stroke-width="0.25" text-anchor="start" textLength="45.90" lengthAdjust="spacingAndGlyphs" >Mitoxantrone</text>
<line x1="346.80" y1="160.10" x2="409.40" y2="160.10" stroke="#777" stroke-width="1.3"/>
<line x1="413.70" y1="160.40" x2="476.00" y2="160.40" stroke="#777" stroke-width="1.3"/>
<text transform="translate(359.20 195.60) rotate(-90)" x="0" y="0" font-family='"Liberation Serif", serif' font-size="8.0" font-weight="bold" fill="#000" stroke="#000" stroke-width="0.25" text-anchor="start" textLength="11.30" lengthAdjust="spacingAndGlyphs" >Sus</text>
<text transform="translate(382.00 195.60) rotate(-90)" x="0" y="0" font-family='"Liberation Serif", serif' font-size="8.0" font-weight="bold" fill="#000" stroke="#000" stroke-width="0.25" text-anchor="start" textLength="23.70" lengthAdjust="spacingAndGlyphs" >HK-Ad</text>
<text transform="translate(402.80 195.60) rotate(-90)" x="0" y="0" font-family='"Liberation Serif", serif' font-size="8.0" font-weight="bold" fill="#000" stroke="#000" stroke-width="0.25" text-anchor="start" textLength="32.30" lengthAdjust="spacingAndGlyphs" >Transwell</text>
<text transform="translate(423.70 195.60) rotate(-90)" x="0" y="0" font-family='"Liberation Serif", serif' font-size="8.0" font-weight="bold" fill="#000" stroke="#000" stroke-width="0.25" text-anchor="start" textLength="10.50" lengthAdjust="spacingAndGlyphs" >Sus</text>
<text transform="translate(446.20 195.60) rotate(-90)" x="0" y="0" font-family='"Liberation Serif", serif' font-size="8.0" font-weight="bold" fill="#000" stroke="#000" stroke-width="0.25" text-anchor="start" textLength="23.90" lengthAdjust="spacingAndGlyphs" >HK-Ad</text>
<text transform="translate(467.30 195.60) rotate(-90)" x="0" y="0" font-family='"Liberation Serif", serif' font-size="8.0" font-weight="bold" fill="#000" stroke="#000" stroke-width="0.25" text-anchor="start" textLength="32.80" lengthAdjust="spacingAndGlyphs" >Transwell</text>
<path d="M349.30,200.20 L362.50,200.40 A2.70,2.70 0 0 1 362.50,205.80 L349.30,206.00 A2.90,2.90 0 0 1 349.30,200.20 Z" fill="#080808" filter="url(#bl2)"/>
<path d="M371.30,201.60 L385.40,201.70 A2.00,2.00 0 0 1 385.40,205.70 L371.30,205.80 A2.10,2.10 0 0 1 371.30,201.60 Z" fill="#2a2a2a" filter="url(#bl2)"/>
<path d="M393.60,201.60 L404.80,201.60 A2.80,2.80 0 0 1 404.80,207.20 L393.60,207.20 A2.80,2.80 0 0 1 393.60,201.60 Z" fill="#080808" filter="url(#bl2)"/>
<path d="M414.50,201.60 L427.70,201.60 A4.00,4.00 0 0 1 427.70,209.60 L414.50,209.60 A4.00,4.00 0 0 1 414.50,201.60 Z" fill="#080808" filter="url(#bl2)"/>
<path d="M436.30,202.50 L448.70,202.50 A3.20,3.20 0 0 1 448.70,208.90 L436.30,208.90 A3.20,3.20 0 0 1 436.30,202.50 Z" fill="#080808" filter="url(#bl2)"/>
<path d="M458.20,201.50 L471.70,201.70 A4.00,4.00 0 0 1 471.70,209.70 L458.20,209.90 A4.20,4.20 0 0 1 458.20,201.50 Z" fill="#080808" filter="url(#bl2)"/>
<path d="M348.20,214.90 L363.70,215.30 A1.30,1.30 0 0 1 363.70,217.90 L348.20,218.30 A1.70,1.70 0 0 1 348.20,214.90 Z" fill="#000" filter="url(#bl2)"/>
<path d="M347.80,219.60 L363.90,219.80 A1.10,1.10 0 0 1 363.90,222.00 L347.80,222.20 A1.30,1.30 0 0 1 347.80,219.60 Z" fill="#1a1a1a" filter="url(#bl2)"/>
<path d="M370.80,216.20 L386.20,216.20 A1.30,1.30 0 0 1 386.20,218.80 L370.80,218.80 A1.30,1.30 0 0 1 370.80,216.20 Z" fill="#3a3a3a" filter="url(#bl2)"/>
<path d="M370.50,220.60 L386.50,220.60 A1.00,1.00 0 0 1 386.50,222.60 L370.50,222.60 A1.00,1.00 0 0 1 370.50,220.60 Z" fill="#8a8a8a" filter="url(#bl2)"/>
<path d="M392.60,215.90 L406.20,215.90 A1.60,1.60 0 0 1 406.20,219.10 L392.60,219.10 A1.60,1.60 0 0 1 392.60,215.90 Z" fill="#000" filter="url(#bl2)"/>
<path d="M392.20,220.40 L406.60,220.40 A1.20,1.20 0 0 1 406.60,222.80 L392.20,222.80 A1.20,1.20 0 0 1 392.20,220.40 Z" fill="#1a1a1a" filter="url(#bl2)"/>
<path d="M413.00,218.60 L428.50,218.60 A2.00,2.00 0 0 1 428.50,222.60 L413.00,222.60 A2.00,2.00 0 0 1 413.00,218.60 Z" fill="#777" filter="url(#bl2)"/>
<path d="M412.10,216.80 L429.40,216.80 A1.60,1.60 0 0 1 429.40,220.00 L412.10,220.00 A1.60,1.60 0 0 1 412.10,216.80 Z" fill="#080808" filter="url(#bl)"/>
<path d="M411.70,221.50 L429.80,221.50 A1.20,1.20 0 0 1 429.80,223.90 L411.70,223.90 A1.20,1.20 0 0 1 411.70,221.50 Z" fill="#151515" filter="url(#bl)"/>
<path d="M436.00,218.60 L449.00,218.60 A2.00,2.00 0 0 1 449.00,222.60 L436.00,222.60 A2.00,2.00 0 0 1 436.00,218.60 Z" fill="#777" filter="url(#bl2)"/>
<path d="M435.10,216.80 L449.90,216.80 A1.60,1.60 0 0 1 449.90,220.00 L435.10,220.00 A1.60,1.60 0 0 1 435.10,216.80 Z" fill="#080808" filter="url(#bl)"/>
<path d="M434.70,221.50 L450.30,221.50 A1.20,1.20 0 0 1 450.30,223.90 L434.70,223.90 A1.20,1.20 0 0 1 434.70,221.50 Z" fill="#151515" filter="url(#bl)"/>
<path d="M457.00,218.60 L472.50,218.60 A2.00,2.00 0 0 1 472.50,222.60 L457.00,222.60 A2.00,2.00 0 0 1 457.00,218.60 Z" fill="#777" filter="url(#bl2)"/>
<path d="M456.10,216.80 L473.40,216.80 A1.60,1.60 0 0 1 473.40,220.00 L456.10,220.00 A1.60,1.60 0 0 1 456.10,216.80 Z" fill="#080808" filter="url(#bl)"/>
<path d="M455.70,221.50 L473.80,221.50 A1.20,1.20 0 0 1 473.80,223.90 L455.70,223.90 A1.20,1.20 0 0 1 455.70,221.50 Z" fill="#151515" filter="url(#bl)"/>
<text x="351.20" y="231.60" font-family='"Liberation Serif", serif' font-size="7.5" font-weight="normal" fill="#444" text-anchor="start" textLength="9.20" lengthAdjust="spacingAndGlyphs" >1.6</text>
<text x="372.00" y="231.60" font-family='"Liberation Serif", serif' font-size="7.5" font-weight="normal" fill="#444" text-anchor="start" textLength="9.20" lengthAdjust="spacingAndGlyphs" >0.4</text>
<text x="393.60" y="231.60" font-family='"Liberation Serif", serif' font-size="7.5" font-weight="normal" fill="#444" text-anchor="start" textLength="8.70" lengthAdjust="spacingAndGlyphs" >1.5</text>
<text x="417.20" y="231.60" font-family='"Liberation Serif", serif' font-size="7.5" font-weight="normal" fill="#444" text-anchor="start" textLength="9.90" lengthAdjust="spacingAndGlyphs" >3.9</text>
<text x="438.20" y="231.60" font-family='"Liberation Serif", serif' font-size="7.5" font-weight="normal" fill="#444" text-anchor="start" textLength="9.90" lengthAdjust="spacingAndGlyphs" >3.0</text>
<text x="459.20" y="231.60" font-family='"Liberation Serif", serif' font-size="7.5" font-weight="normal" fill="#444" text-anchor="start" textLength="9.50" lengthAdjust="spacingAndGlyphs" >4.8</text>
<g filter="url(#bl)" fill="#080808"><ellipse cx="356.85" cy="237.40" rx="10.15" ry="2.20"/><rect x="346.70" y="236.60" width="20.30" height="1.60" rx="0.80"/></g>
<g filter="url(#bl)" fill="#080808"><ellipse cx="379.50" cy="237.40" rx="10.40" ry="2.20"/><rect x="369.10" y="236.60" width="20.80" height="1.60" rx="0.80"/></g>
<g filter="url(#bl)" fill="#080808"><ellipse cx="401.20" cy="237.40" rx="9.40" ry="2.20"/><rect x="391.80" y="236.60" width="18.80" height="1.60" rx="0.80"/></g>
<g filter="url(#bl)" fill="#080808"><ellipse cx="421.25" cy="237.40" rx="9.05" ry="2.20"/><rect x="412.20" y="236.60" width="18.10" height="1.60" rx="0.80"/></g>
<g filter="url(#bl)" fill="#080808"><ellipse cx="442.45" cy="237.40" rx="9.45" ry="2.20"/><rect x="433.00" y="236.60" width="18.90" height="1.60" rx="0.80"/></g>
<g filter="url(#bl)" fill="#080808"><ellipse cx="464.00" cy="237.40" rx="8.60" ry="2.20"/><rect x="455.40" y="236.60" width="17.20" height="1.60" rx="0.80"/></g>
<text x="395.00" y="249.70" font-family='"Liberation Serif", serif' font-size="7.6" font-weight="bold" fill="#000" stroke="#000" stroke-width="0.25" text-anchor="start" textLength="33.30" lengthAdjust="spacingAndGlyphs" >SUDHL-4</text>
<line x1="478.30" y1="205.50" x2="488.00" y2="205.50" stroke="#1a1a1a" stroke-width="1.2"/>
<text x="490.40" y="207.70" font-family='"Liberation Serif", serif' font-size="7.4" font-weight="bold" fill="#000" stroke="#000" stroke-width="0.25" text-anchor="start" textLength="10.40" lengthAdjust="spacingAndGlyphs" >EL</text>
<line x1="478.30" y1="217.80" x2="488.00" y2="217.80" stroke="#1a1a1a" stroke-width="1.2"/>
<text x="492.00" y="218.30" font-family='"Liberation Serif", serif' font-size="7.4" font-weight="bold" fill="#000" stroke="#000" stroke-width="0.25" text-anchor="start" textLength="3.90" lengthAdjust="spacingAndGlyphs" >L</text>
<line x1="478.30" y1="221.70" x2="488.00" y2="221.70" stroke="#1a1a1a" stroke-width="1.2"/>
<text x="492.00" y="225.20" font-family='"Liberation Serif", serif' font-size="7.4" font-weight="bold" fill="#000" stroke="#000" stroke-width="0.25" text-anchor="start" textLength="4.40" lengthAdjust="spacingAndGlyphs" >S</text>
<line x1="501.30" y1="205.00" x2="501.30" y2="224.30" stroke="#333" stroke-width="1.1"/>
<line x1="499.50" y1="203.60" x2="501.30" y2="205.20" stroke="#333" stroke-width="0.9"/>
<line x1="496.50" y1="219.00" x2="498.20" y2="216.50" stroke="#555" stroke-width="0.8"/>
<text x="502.40" y="217.50" font-family='"Liberation Serif", serif' font-size="7.4" font-weight="bold" fill="#000" stroke="#000" stroke-width="0.25" text-anchor="start" textLength="14.30" lengthAdjust="spacingAndGlyphs" >Bim</text>
<line x1="479.40" y1="237.10" x2="489.30" y2="237.10" stroke="#1a1a1a" stroke-width="1.1"/>
<text x="500.20" y="238.60" font-family='"Liberation Serif", serif' font-size="7.4" font-weight="bold" fill="#000" stroke="#000" stroke-width="0.25" text-anchor="start" textLength="18.20" lengthAdjust="spacingAndGlyphs" >Actin</text>
<line x1="44.80" y1="276.50" x2="44.80" y2="384.40" stroke="#c4c4c4" stroke-width="1"/>
<line x1="44.80" y1="384.40" x2="238.50" y2="384.40" stroke="#c4c4c4" stroke-width="1"/>
<line x1="42.40" y1="384.40" x2="44.80" y2="384.40" stroke="#c4c4c4" stroke-width="1"/>
<text x="36.80" y="387.00" font-family='"Liberation Serif", serif' font-size="7.7" font-weight="bold" fill="#000" stroke="#000" stroke-width="0.25" text-anchor="end" textLength="4.60" lengthAdjust="spacingAndGlyphs" >0</text>
<line x1="42.40" y1="368.99" x2="44.80" y2="368.99" stroke="#c4c4c4" stroke-width="1"/>
<text x="36.80" y="371.59" font-family='"Liberation Serif", serif' font-size="7.7" font-weight="bold" fill="#000" stroke="#000" stroke-width="0.25" text-anchor="end" textLength="4.60" lengthAdjust="spacingAndGlyphs" >1</text>
<line x1="42.40" y1="353.57" x2="44.80" y2="353.57" stroke="#c4c4c4" stroke-width="1"/>
<text x="36.80" y="356.17" font-family='"Liberation Serif", serif' font-size="7.7" font-weight="bold" fill="#000" stroke="#000" stroke-width="0.25" text-anchor="end" textLength="4.60" lengthAdjust="spacingAndGlyphs" >2</text>
<line x1="42.40" y1="338.16" x2="44.80" y2="338.16" stroke="#c4c4c4" stroke-width="1"/>
<text x="36.80" y="340.76" font-family='"Liberation Serif", serif' font-size="7.7" font-weight="bold" fill="#000" stroke="#000" stroke-width="0.25" text-anchor="end" textLength="4.60" lengthAdjust="spacingAndGlyphs" >3</text>
<line x1="42.40" y1="322.74" x2="44.80" y2="322.74" stroke="#c4c4c4" stroke-width="1"/>
<text x="36.80" y="325.34" font-family='"Liberation Serif", serif' font-size="7.7" font-weight="bold" fill="#000" stroke="#000" stroke-width="0.25" text-anchor="end" textLength="4.60" lengthAdjust="spacingAndGlyphs" >4</text>
<line x1="42.40" y1="307.33" x2="44.80" y2="307.33" stroke="#c4c4c4" stroke-width="1"/>
<text x="36.80" y="309.93" font-family='"Liberation Serif", serif' font-size="7.7" font-weight="bold" fill="#000" stroke="#000" stroke-width="0.25" text-anchor="end" textLength="4.60" lengthAdjust="spacingAndGlyphs" >5</text>
<line x1="42.40" y1="291.91" x2="44.80" y2="291.91" stroke="#c4c4c4" stroke-width="1"/>
<text x="36.80" y="294.51" font-family='"Liberation Serif", serif' font-size="7.7" font-weight="bold" fill="#000" stroke="#000" stroke-width="0.25" text-anchor="end" textLength="4.60" lengthAdjust="spacingAndGlyphs" >6</text>
<line x1="42.40" y1="276.50" x2="44.80" y2="276.50" stroke="#c4c4c4" stroke-width="1"/>
<text x="36.80" y="279.10" font-family='"Liberation Serif", serif' font-size="7.7" font-weight="bold" fill="#000" stroke="#000" stroke-width="0.25" text-anchor="end" textLength="4.60" lengthAdjust="spacingAndGlyphs" >7</text>
<line x1="109.00" y1="384.40" x2="109.00" y2="386.40" stroke="#c4c4c4" stroke-width="1"/>
<line x1="176.40" y1="384.40" x2="176.40" y2="386.40" stroke="#c4c4c4" stroke-width="1"/>
<text transform="translate(7.50 373.40) rotate(-90)" x="0" y="0" font-family='"Liberation Serif", serif' font-size="8.1" font-weight="bold" fill="#000" stroke="#000" stroke-width="0.25" text-anchor="start" textLength="87.70" lengthAdjust="spacingAndGlyphs" >miR-181a expression fold</text>
<text transform="translate(21.00 351.70) rotate(-90)" x="0" y="0" font-family='"Liberation Serif", serif' font-size="8.1" font-weight="bold" fill="#000" stroke="#000" stroke-width="0.25" text-anchor="start" textLength="47.00" lengthAdjust="spacingAndGlyphs" >relative to U6</text>
<rect x="55.60" y="344.00" width="14.00" height="40.40" fill="#fff" stroke="#333" stroke-width="1"/>
<rect x="69.60" y="289.50" width="14.80" height="94.90" fill="#000" stroke="#000" stroke-width="1"/>
<rect x="85.00" y="343.60" width="14.00" height="40.80" fill="#b4b4b4" stroke="#666" stroke-width="1"/>
<line x1="62.60" y1="337.70" x2="62.60" y2="344.00" stroke="#444" stroke-width="1"/>
<line x1="60.00" y1="337.70" x2="65.20" y2="337.70" stroke="#444" stroke-width="1"/>
<line x1="77.00" y1="280.90" x2="77.00" y2="289.50" stroke="#444" stroke-width="1"/>
<line x1="74.40" y1="280.90" x2="79.60" y2="280.90" stroke="#444" stroke-width="1"/>
<line x1="92.00" y1="335.40" x2="92.00" y2="343.60" stroke="#444" stroke-width="1"/>
<line x1="89.40" y1="335.40" x2="94.60" y2="335.40" stroke="#444" stroke-width="1"/>
<rect x="120.60" y="359.40" width="13.30" height="25.00" fill="#fff" stroke="#333" stroke-width="1"/>
<rect x="133.90" y="310.70" width="15.20" height="73.70" fill="#000" stroke="#000" stroke-width="1"/>
<rect x="149.80" y="357.40" width="13.60" height="27.00" fill="#b4b4b4" stroke="#666" stroke-width="1"/>
<line x1="127.25" y1="355.40" x2="127.25" y2="359.40" stroke="#444" stroke-width="1"/>
<line x1="124.65" y1="355.40" x2="129.85" y2="355.40" stroke="#444" stroke-width="1"/>
<line x1="141.50" y1="299.20" x2="141.50" y2="310.70" stroke="#444" stroke-width="1"/>
<line x1="138.90" y1="299.20" x2="144.10" y2="299.20" stroke="#444" stroke-width="1"/>
<line x1="156.60" y1="349.90" x2="156.60" y2="357.40" stroke="#444" stroke-width="1"/>
<line x1="154.00" y1="349.90" x2="159.20" y2="349.90" stroke="#444" stroke-width="1"/>
<rect x="184.50" y="341.80" width="14.40" height="42.60" fill="#fff" stroke="#333" stroke-width="1"/>
<rect x="198.90" y="295.20" width="14.10" height="89.20" fill="#000" stroke="#000" stroke-width="1"/>
<rect x="213.60" y="340.20" width="14.80" height="44.20" fill="#b4b4b4" stroke="#666" stroke-width="1"/>
<line x1="191.70" y1="338.20" x2="191.70" y2="341.80" stroke="#444" stroke-width="1"/>
<line x1="189.10" y1="338.20" x2="194.30" y2="338.20" stroke="#444" stroke-width="1"/>
<line x1="205.95" y1="292.40" x2="205.95" y2="295.20" stroke="#444" stroke-width="1"/>
<line x1="203.35" y1="292.40" x2="208.55" y2="292.40" stroke="#444" stroke-width="1"/>
<line x1="221.00" y1="332.50" x2="221.00" y2="340.20" stroke="#444" stroke-width="1"/>
<line x1="218.40" y1="332.50" x2="223.60" y2="332.50" stroke="#444" stroke-width="1"/>
<polyline points="57.4,313 57.4,273.0 89.6,273.0 89.6,313" fill="none" stroke="#6e6e6e" stroke-width="1"/>
<polyline points="63.7,308.7 63.7,279.6 77.5,279.6 77.5,281.1" fill="none" stroke="#6e6e6e" stroke-width="1"/>
<circle cx="56.6" cy="269.6" r="1.5" fill="#555"/>
<circle cx="61.5" cy="269.6" r="1.5" fill="#555"/>
<circle cx="63.2" cy="276.1" r="1.5" fill="#555"/>
<polyline points="121.4,331 121.4,290.7 152.3,290.7 152.3,330" fill="none" stroke="#6e6e6e" stroke-width="1"/>
<polyline points="127.6,331 127.6,297.5 141.0,297.5 141.0,299.0" fill="none" stroke="#6e6e6e" stroke-width="1"/>
<circle cx="120.1" cy="287.2" r="1.5" fill="#555"/>
<circle cx="124.8" cy="287.2" r="1.5" fill="#555"/>
<circle cx="126.4" cy="293.8" r="1.5" fill="#555"/>
<polyline points="184.9,325.2 184.9,285.1 216.8,285.1 216.8,325.2" fill="none" stroke="#6e6e6e" stroke-width="1"/>
<polyline points="191.6,321.4 191.6,291.5 205.5,291.5 205.5,293.0" fill="none" stroke="#6e6e6e" stroke-width="1"/>
<circle cx="184.1" cy="281.5" r="1.5" fill="#555"/>
<circle cx="189.0" cy="281.5" r="1.5" fill="#555"/>
<circle cx="190.4" cy="288.1" r="1.5" fill="#555"/>
<rect x="184.80" y="257.60" width="5.60" height="4.00" fill="#fff" stroke="#444" stroke-width="0.8"/>
<text x="193.70" y="261.80" font-family='"Liberation Serif", serif' font-size="7.6" font-weight="bold" fill="#000" stroke="#000" stroke-width="0.15" text-anchor="start" textLength="15.10" lengthAdjust="spacingAndGlyphs" >Sus</text>
<rect x="184.80" y="264.60" width="5.60" height="3.90" fill="#000" stroke="#444" stroke-width="0.8"/>
<text x="193.70" y="268.50" font-family='"Liberation Serif", serif' font-size="7.6" font-weight="bold" fill="#000" stroke="#000" stroke-width="0.15" text-anchor="start" textLength="28.50" lengthAdjust="spacingAndGlyphs" >HK-Ad</text>
<rect x="184.80" y="270.50" width="5.60" height="4.10" fill="#b4b4b4" stroke="#444" stroke-width="0.8"/>
<text x="193.70" y="275.00" font-family='"Liberation Serif", serif' font-size="7.6" font-weight="bold" fill="#000" stroke="#000" stroke-width="0.15" text-anchor="start" textLength="42.40" lengthAdjust="spacingAndGlyphs" >Transwell</text>
<text x="61.10" y="398.80" font-family='"Liberation Serif", serif' font-size="8.2" font-weight="bold" fill="#000" stroke="#000" stroke-width="0.25" text-anchor="start" textLength="30.70" lengthAdjust="spacingAndGlyphs" >Jeko-1</text>
<text x="129.30" y="398.60" font-family='"Liberation Serif", serif' font-size="8.2" font-weight="bold" fill="#000" stroke="#000" stroke-width="0.25" text-anchor="start" textLength="22.70" lengthAdjust="spacingAndGlyphs" >Mino</text>
<text x="183.20" y="399.00" font-family='"Liberation Serif", serif' font-size="8.2" font-weight="bold" fill="#000" stroke="#000" stroke-width="0.25" text-anchor="start" textLength="43.80" lengthAdjust="spacingAndGlyphs" >SUDHL-4</text>
<text x="235.90" y="370.90" font-family='"Liberation Serif", serif' font-size="7.6" font-weight="bold" fill="#000" stroke="#000" stroke-width="0.25" text-anchor="start" textLength="30.50" lengthAdjust="spacingAndGlyphs" >*P &lt; 0.05</text>
<text x="231.80" y="380.70" font-family='"Liberation Serif", serif' font-size="7.6" font-weight="bold" fill="#000" stroke="#000" stroke-width="0.25" text-anchor="start" textLength="34.60" lengthAdjust="spacingAndGlyphs" >**P &gt; 0.05</text>
</svg>
</body></html>
